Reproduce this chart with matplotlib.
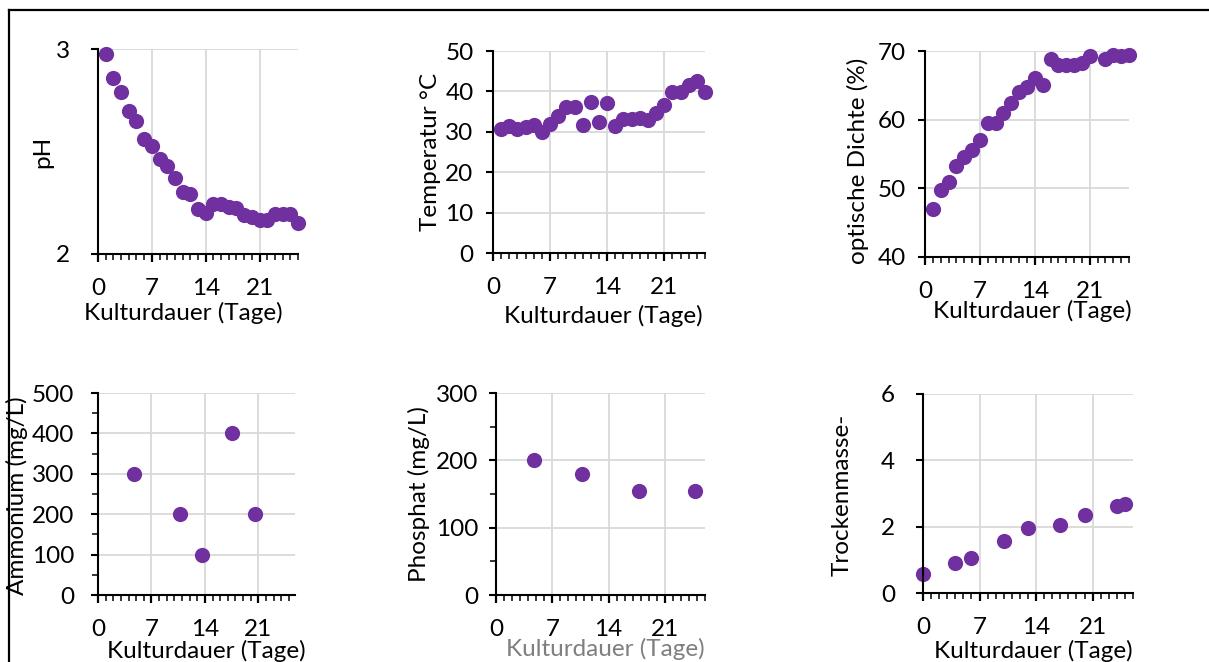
import numpy as np
import matplotlib.pyplot as plt
from matplotlib.ticker import MultipleLocator, FixedLocator
from matplotlib.lines import Line2D

plt.rcParams['font.family'] = ['Lato', 'DejaVu Sans']

# --- data ---
ph_tage = list(range(1, 27))
ph_wert = [2.976, 2.857, 2.792, 2.698, 2.650, 2.561, 2.528, 2.462, 2.429, 2.372,
           2.301, 2.293, 2.220, 2.200, 2.244, 2.244, 2.231, 2.223, 2.190, 2.179,
           2.166, 2.166, 2.193, 2.193, 2.193, 2.150]

temp_tage = list(range(1, 27))
temp_wert = [30.6, 31.4, 30.8, 31.2, 31.8, 30.0, 32.0, 33.8, 36.1, 36.1,
             31.8, 37.5, 32.4, 37.2, 31.4, 33.1, 33.1, 33.5, 33.0, 34.7,
             36.6, 39.9, 39.9, 41.7, 42.5, 39.9]

od_tage = list(range(1, 22)) + [23, 24, 25, 26]
od_wert = [47.0, 49.8, 50.9, 53.2, 54.6, 55.6, 57.1, 59.5, 59.5, 61.0,
           62.5, 64.0, 64.7, 66.0, 65.0, 68.9, 67.9, 68.0, 68.0, 68.2,
           69.2, 68.8, 69.4, 69.2, 69.4]

amm_tage = [4.7, 10.7, 13.6, 17.6, 20.6]
amm_wert = [300, 200, 100, 400, 200]

phos_tage = [4.7, 10.7, 17.8, 24.7]
phos_wert = [201, 180, 155, 154]

tm_tage = [0, 4, 6, 10, 13, 17, 20, 24, 25]
tm_wert = [0.58, 0.89, 1.05, 1.57, 1.95, 2.06, 2.34, 2.63, 2.69]

xlabel = "Kulturdauer (Tage)"
ylabels = ["pH", "Temperatur °C", "optische Dichte (%)",
           "Ammonium (mg/L)", "Phosphat (mg/L)", "Trockenmasse-"]

W, H = 1209, 662
fig = plt.figure(figsize=(W / 100, H / 100), dpi=100)

def box(x0, y0, x1, y1):
    return [x0 / W, 1 - y1 / H, (x1 - x0) / W, (y1 - y0) / H]

lila = '#7030A0'
grau = '#d9d9d9'
fs = 17.5

panels = [
    # rect(px), x, y, ylim, ymajor, yminor, xmax, ylabel pos, xlabel pos, ytick pad
    (box(98, 49, 298, 254), ph_tage, ph_wert, (2, 3), 1, None, 26,
     (-0.275, 0.498), (0.425, -0.234), 15),
    (box(493, 51, 705, 253), temp_tage, temp_wert, (0, 50), 10, None, 26,
     (-0.294, 0.498), (0.518, -0.259), 9),
    (box(925, 51, 1129, 257), od_tage, od_wert, (40, 70), 10, None, 26,
     (-0.33, 0.465), (0.528, -0.21), 9),
    (box(98, 393, 295, 595), amm_tage, amm_wert, (0, 500), 100, 50, 25.8,
     (-0.412, 0.49), (0.549, -0.221), 12),
    (box(496, 393, 705, 595), phos_tage, phos_wert, (0, 300), 100, 50, 26,
     (-0.371, 0.502), (0.522, -0.211), 8),
    (box(923, 394, 1133, 593), tm_tage, tm_wert, (0, 6), 2, None, 26,
     (-0.383, 0.493), (0.524, -0.234), 15),
]

for i, (rect, x, y, ylim, ymaj, ymin, xmax, ylpos, xlpos, ypad) in enumerate(panels):
    ax = fig.add_axes(rect)
    ax.scatter(x, y, s=120, color=lila, zorder=3, clip_on=False, linewidths=0)
    ax.set_xlim(0, xmax)
    ax.set_ylim(*ylim)
    ax.xaxis.set_major_locator(FixedLocator([0, 7, 14, 21]))
    ax.xaxis.set_minor_locator(MultipleLocator(1))
    ax.yaxis.set_major_locator(MultipleLocator(ymaj))
    if ymin:
        ax.yaxis.set_minor_locator(MultipleLocator(ymin))
    ax.grid(True, which='major', color=grau, lw=1.3, zorder=0)
    ax.set_axisbelow(True)
    for s in ['top', 'right']:
        ax.spines[s].set_visible(False)
    for s in ['left', 'bottom']:
        ax.spines[s].set_linewidth(1.5)
        ax.spines[s].set_zorder(4)
    ax.tick_params(axis='x', which='major', direction='out', length=6, width=1.6,
                   pad=11, labelsize=fs)
    ax.tick_params(axis='x', which='minor', direction='out', length=4, width=1.1)
    ax.tick_params(axis='y', which='major', direction='out', length=5, width=1.5,
                   pad=ypad, labelsize=fs)
    ax.tick_params(axis='y', which='minor', direction='out', length=4, width=1.1)
    ax.set_xlabel(xlabel, fontsize=fs, color='#7f7f7f' if i == 4 else 'black')
    ax.xaxis.set_label_coords(*xlpos)
    ax.xaxis.label.set_va('top')
    ax.set_ylabel(ylabels[i], fontsize=fs)
    ax.yaxis.set_label_coords(*ylpos)
    ax.yaxis.label.set_va('center')

# frame lines at top and left
fig.add_artist(Line2D([9 / W, 9 / W], [0, 1 - 10 / H], color='black', lw=1.6))
fig.add_artist(Line2D([9 / W, 1], [1 - 10 / H, 1 - 10 / H], color='black', lw=1.6))

fig.savefig('out.png', dpi=100)
